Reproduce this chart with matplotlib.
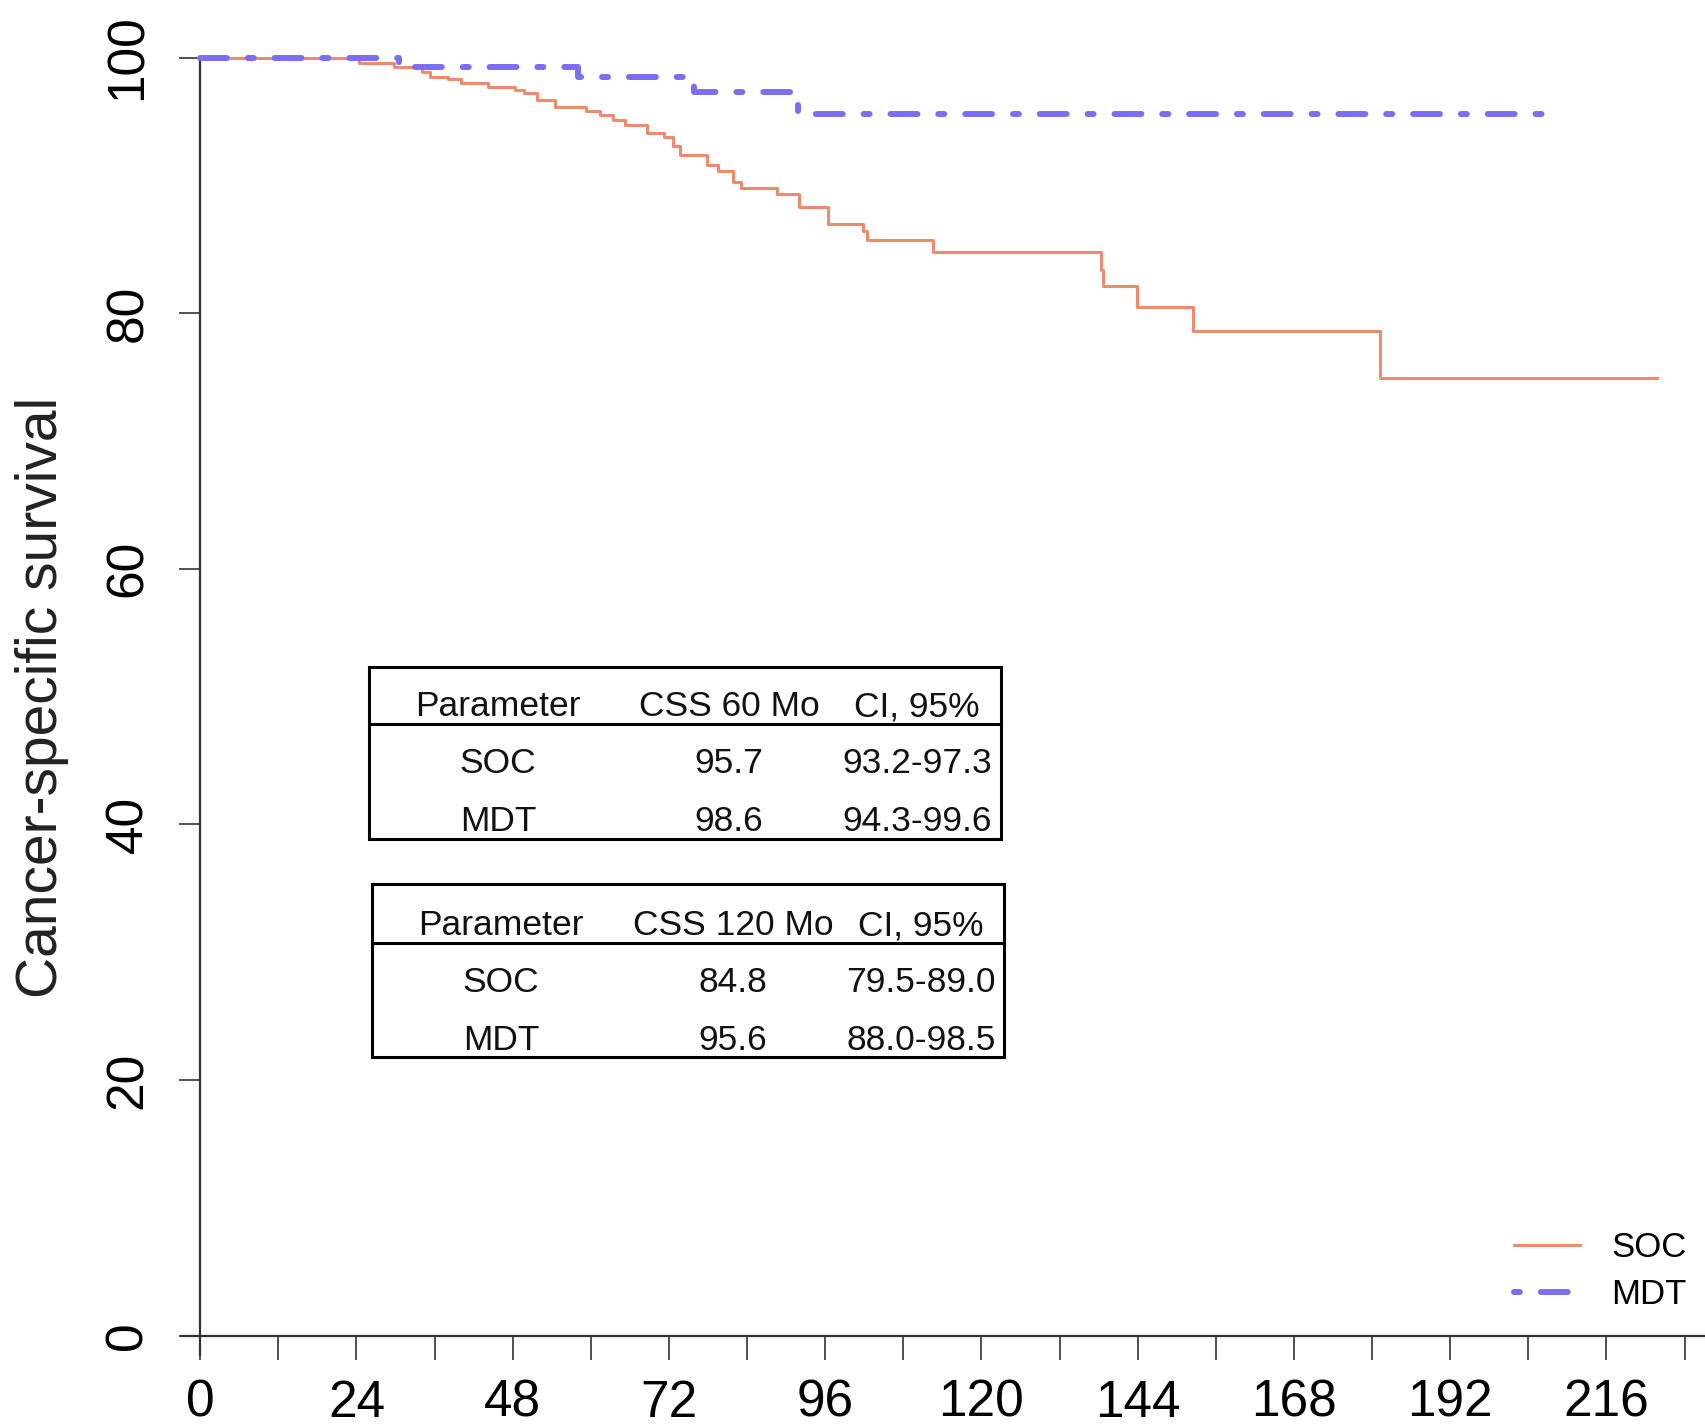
import matplotlib
matplotlib.use("Agg")
import matplotlib.pyplot as plt
from matplotlib.lines import Line2D
from matplotlib.patches import Rectangle

plt.rcParams['font.family'] = ['Liberation Sans', 'DejaVu Sans']

# ---- data ----
soc_months = [0, 24.4, 29.8, 34.0, 35.3, 38.1, 40.1, 44.2, 48.4, 49.7, 51.8, 54.5,
              59.3, 61.4, 63.4, 65.2, 68.6, 71.3, 72.7, 73.7, 77.8, 79.5, 81.8, 83.0,
              88.6, 92.0, 96.4, 101.8, 102.5, 112.6, 138.3, 138.7, 143.9, 152.5,
              181.2, 223.7]
soc_surv = [100, 99.6, 99.3, 98.9, 98.5, 98.3, 98.0, 97.7, 97.5, 97.2, 96.7, 96.1,
            95.8, 95.5, 95.1, 94.7, 94.1, 93.8, 93.1, 92.4, 91.6, 91.1, 90.3, 89.8,
            89.3, 88.3, 87.0, 86.4, 85.7, 84.8, 83.4, 82.1, 80.5, 78.6,
            74.9, 74.9]
mdt_months = [0, 30.5, 58.0, 75.8, 91.9, 208.0]
mdt_surv = [100, 99.3, 98.5, 97.3, 95.6, 95.6]

series_labels = ["SOC", "MDT"]
x_ticks = list(range(0, 229, 12))
x_ticklabels = [str(t) if t % 24 == 0 and t <= 216 else "" for t in x_ticks]
y_ticks = [0, 20, 40, 60, 80, 100]

table_header_60 = ["Parameter", "CSS 60 Mo", "CI, 95%"]
table_rows_60 = [["SOC", "95.7", "93.2-97.3"], ["MDT", "98.6", "94.3-99.6"]]
table_header_120 = ["Parameter", "CSS 120 Mo", "CI, 95%"]
table_rows_120 = [["SOC", "84.8", "79.5-89.0"], ["MDT", "95.6", "88.0-98.5"]]

# ---- figure ----
W, H = 1706, 1426
fig = plt.figure(figsize=(W / 100, H / 100), dpi=100)
ax = fig.add_axes([0.1059, 0.0499, 0.8941, 0.9187])
ax.set_xlim(-3.0, 231.3)
ax.set_ylim(-1.5, 101)

soc_color = '#EE8A6E'
mdt_color = '#7B6EF2'
mdt_pattern = (4.5, 3.5, 1.0, 3.5)

ax.plot(soc_months, soc_surv, drawstyle='steps-post', color=soc_color, lw=2.2,
        zorder=3, clip_on=False)
ax.plot(mdt_months, mdt_surv, drawstyle='steps-post', color=mdt_color, lw=4.3,
        linestyle=(0, mdt_pattern), dash_capstyle='round', zorder=4, clip_on=False)

spine_c = '#333333'
for s in ['top', 'right']:
    ax.spines[s].set_visible(False)
ax.spines['left'].set_position(('data', 0))
ax.spines['left'].set_bounds(-1.5, 100)
ax.spines['bottom'].set_position(('data', 0))
for s in ['left', 'bottom']:
    ax.spines[s].set_color(spine_c)
    ax.spines[s].set_linewidth(1.6)

ax.set_xticks(x_ticks)
ax.set_xticklabels(x_ticklabels)
ax.set_yticks(y_ticks)
ax.set_yticklabels([str(v) for v in y_ticks], rotation=90, va='center')
ax.tick_params(axis='x', direction='out', length=17, width=1.2, color=spine_c,
               labelsize=37, pad=14)
ax.tick_params(axis='y', direction='out', length=15, width=1.2, color=spine_c,
               labelsize=37, pad=19)

ax.set_ylabel("Cancer-specific survival", fontsize=41, color='#222222')
ax.yaxis.set_label_coords(-0.0735, 0.502)

# legend
h_soc = Line2D([], [], color=soc_color, lw=2.2)
h_mdt = Line2D([], [], color=mdt_color, lw=4.3, linestyle=(8.0, mdt_pattern),
               dash_capstyle='round')
ax.legend([h_soc, h_mdt], series_labels, loc='upper left',
          bbox_to_anchor=(1514 / W, 1 - 1231 / H), bbox_transform=fig.transFigure,
          frameon=False, fontsize=25, handlelength=1.9, handletextpad=0.9,
          labelspacing=0.4, borderpad=0, borderaxespad=0)


def fx(px):
    return px / W


def fy(py):
    return 1 - py / H


def draw_table(box, sep_y, col_x, header, rows, base_y):
    x0, y0, x1, y1 = box
    fig.add_artist(Rectangle((fx(x0), fy(y1)), fx(x1) - fx(x0), fy(y0) - fy(y1),
                             transform=fig.transFigure, fill=False,
                             edgecolor='black', lw=2.2))
    fig.add_artist(Line2D([fx(x0), fx(x1)], [fy(sep_y), fy(sep_y)],
                          transform=fig.transFigure, color='black', lw=2.2))
    lines = [header] + rows
    for r, row in enumerate(lines):
        for c, txt in enumerate(row):
            fig.text(fx(col_x[c]), fy(base_y[r]), txt, ha='center', va='baseline',
                     fontsize=25.5, color='#111111')


draw_table((369, 667, 1001, 839), 724, [498, 729, 917], table_header_60,
           table_rows_60, [716, 773, 831])
draw_table((372, 884, 1004, 1057), 943, [501, 733, 921], table_header_120,
           table_rows_120, [935, 992, 1050])

fig.savefig("out.png", dpi=100)
